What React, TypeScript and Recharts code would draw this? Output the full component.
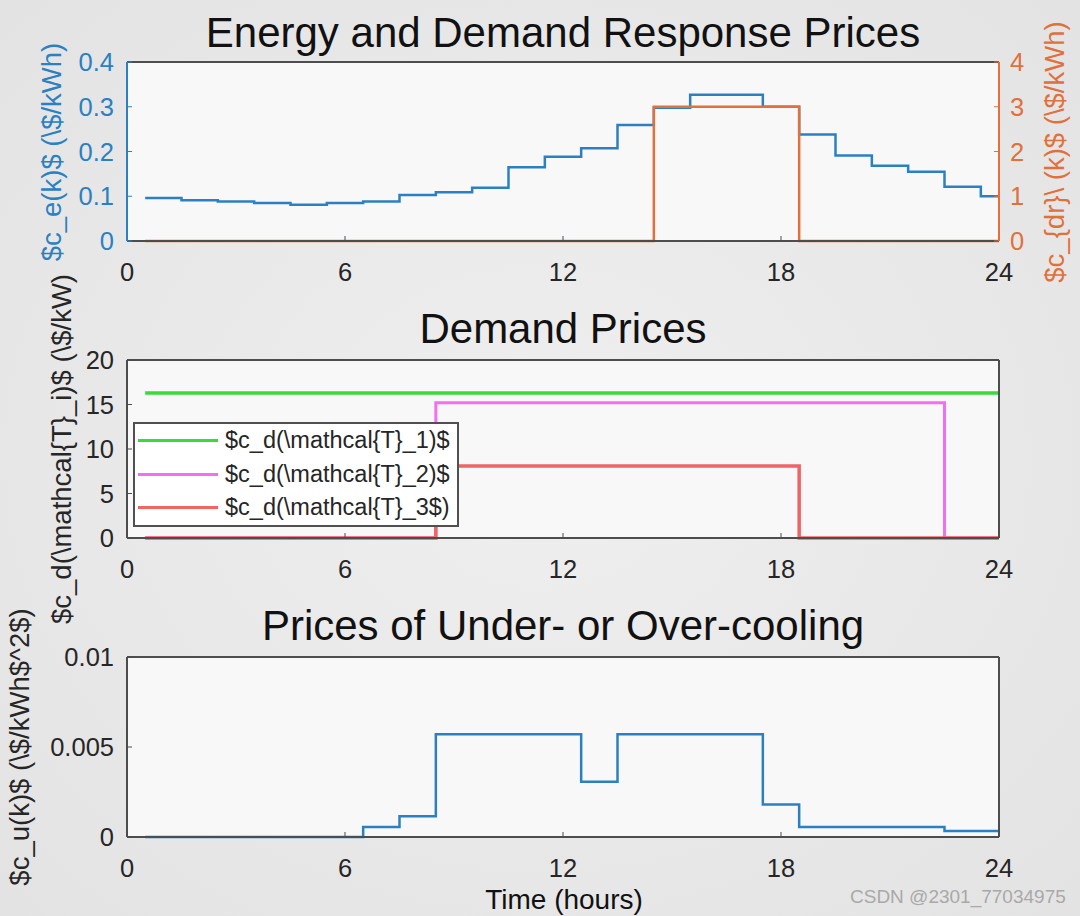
import React from 'react';
import { LineChart, Line, XAxis, YAxis, CartesianGrid, Legend, Label } from 'recharts';

// stairs: each value holds from its edge to the next edge, last value runs to 24 h
const stepEdges = [0.5, 1.5, 2.5, 3.5, 4.5, 5.5, 6.5, 7.5, 8.5, 9.5, 10.5, 11.5, 12.5, 13.5, 14.5, 15.5, 16.5, 17.5, 18.5, 19.5, 20.5, 21.5, 22.5, 23.5, 24];

const energyPrice = [0.096, 0.091, 0.088, 0.085, 0.081, 0.085, 0.088, 0.103, 0.109, 0.119, 0.165, 0.188, 0.207, 0.259, 0.298, 0.327, 0.327, 0.3, 0.238, 0.191, 0.168, 0.155, 0.121, 0.1];
const drPrice = [0, 0, 0, 0, 0, 0, 0, 0, 0, 0, 0, 0, 0, 0, 3, 3, 3, 3, 0, 0, 0, 0, 0, 0];

const demandT1 = [16.3, 16.3, 16.3, 16.3, 16.3, 16.3, 16.3, 16.3, 16.3, 16.3, 16.3, 16.3, 16.3, 16.3, 16.3, 16.3, 16.3, 16.3, 16.3, 16.3, 16.3, 16.3, 16.3, 16.3];
const demandT2 = [0, 0, 0, 0, 0, 0, 0, 0, 15.2, 15.2, 15.2, 15.2, 15.2, 15.2, 15.2, 15.2, 15.2, 15.2, 15.2, 15.2, 15.2, 15.2, 0, 0];
const demandT3 = [0, 0, 0, 0, 0, 0, 0, 0, 8.1, 8.1, 8.1, 8.1, 8.1, 8.1, 8.1, 8.1, 8.1, 8.1, 0, 0, 0, 0, 0, 0];

const coolingPrice = [0, 0, 0, 0, 0, 0, 0.00056, 0.00115, 0.00571, 0.00571, 0.00571, 0.00571, 0.00307, 0.00571, 0.00571, 0.00571, 0.00571, 0.0018, 0.00056, 0.00056, 0.00056, 0.00056, 0.00033, 0.00033];

const hourTicks = [0, 6, 12, 18, 24];
const energyTicks = [0, 0.1, 0.2, 0.3, 0.4];
const drTicks = [0, 1, 2, 3, 4];
const demandTicks = [0, 5, 10, 15, 20];
const coolingTicks = [0, 0.005, 0.01];

const stairs = (series: Record<string, number[]>) =>
  stepEdges.map((t, i) => {
    const row: Record<string, number> = { t };
    Object.keys(series).forEach((k) => {
      const v = series[k];
      row[k] = v[Math.min(i, v.length - 1)];
    });
    return row;
  });

const energyRows = stairs({ energy: energyPrice, dr: drPrice });
const demandRows = stairs({ t1: demandT1, t2: demandT2, t3: demandT3 });
const coolingRows = stairs({ cool: coolingPrice });

const W = 1080;
const H = 916;
const FONT = '"Liberation Sans", Arial, Helvetica, sans-serif';
const AXIS = '#4d4d4d';
const TEXT = '#262626';
const BLUE = '#2b80c2';
const ORANGE = '#e0703c';
const GREEN = '#38dc38';
const MAGENTA = '#f26ef2';
const RED = '#f06464';
const PLOT_BG = '#f8f8f8';

const tickFont = { fontSize: 25.5, fontFamily: FONT };

const rotated = (text: string, x: number, y: number, color: string) => () => (
  <text x={x} y={y} transform={`rotate(-90 ${x} ${y})`} textAnchor="middle" fill={color} fontSize={27.5} fontFamily={FONT}>
    {text}
  </text>
);

const flat = (text: string, x: number, y: number, size: number) => () => (
  <text x={x} y={y} textAnchor="middle" fill="#111" fontSize={size} fontFamily={FONT}>
    {text}
  </text>
);

const layer: React.CSSProperties = { position: 'absolute', left: 0, top: 0 };

function bottomAxis(height: number, label?: React.ReactNode) {
  return (
    <XAxis
      dataKey="t"
      type="number"
      domain={[0, 24]}
      ticks={hourTicks}
      height={height}
      tickSize={-5}
      tickMargin={27}
      stroke={AXIS}
      axisLine={{ strokeWidth: 2 }}
      tick={{ ...tickFont, fill: TEXT }}
    >
      {label}
    </XAxis>
  );
}

function topAxis(title: React.ReactNode) {
  return (
    <XAxis
      xAxisId="top"
      orientation="top"
      dataKey="t"
      type="number"
      domain={[0, 24]}
      ticks={hourTicks}
      height={1}
      tickSize={-5}
      tick={false}
      stroke={AXIS}
      axisLine={{ strokeWidth: 2 }}
    >
      {title}
    </XAxis>
  );
}

const LegendBox = ({ payload }: any) => (
  <div style={{ border: '2px solid #505050', background: '#ffffff', width: 322 }}>
    {(payload || []).map((p: any) => (
      <div key={p.value} style={{ display: 'flex', alignItems: 'center', height: 33.5 }}>
        <div style={{ width: 80, height: 3, background: p.color, marginLeft: 3, marginRight: 7 }} />
        <span style={{ fontSize: 23.5, fontFamily: FONT, color: TEXT, whiteSpace: 'nowrap' }}>{p.value}</span>
      </div>
    ))}
  </div>
);

export default function App() {
  return (
    <div
      style={{
        position: 'absolute',
        left: 0,
        top: 0,
        width: W,
        height: H,
        overflow: 'hidden',
        background: 'radial-gradient(ellipse at 50% 50%, #efefef 0%, #e3e3e3 100%)',
      }}
    >
      {/* Energy and demand response prices */}
      <div style={layer}>
        <LineChart width={W} height={H} data={energyRows} margin={{ top: 61, right: 0, bottom: 616, left: 0 }}>
          <CartesianGrid fill={PLOT_BG} horizontal={false} vertical={false} />
          {bottomAxis(59)}
          {topAxis(<Label content={flat('Energy and Demand Response Prices', 563, 47, 42)} />)}
          <YAxis
            domain={[0, 0.4]}
            ticks={energyTicks}
            width={127}
            tickSize={-5}
            tickMargin={18}
            stroke={BLUE}
            axisLine={{ strokeWidth: 2 }}
            tick={{ ...tickFont, fill: BLUE }}
          >
            <Label content={rotated('$c_e(k)$ (\\$/kWh)', 61, 152, BLUE)} />
          </YAxis>
          <YAxis
            yAxisId="right"
            orientation="right"
            domain={[0, 4]}
            ticks={drTicks}
            width={81}
            tickSize={-5}
            tickMargin={16}
            stroke={ORANGE}
            axisLine={{ strokeWidth: 2 }}
            tick={{ ...tickFont, fill: ORANGE, textAnchor: 'start' }}
          >
            <Label content={rotated('$c_{dr}\\ (k)$ (\\$/kWh)', 1064, 152, ORANGE)} />
          </YAxis>
          <Line dataKey="energy" type="stepAfter" stroke={BLUE} strokeWidth={2.5} dot={false} activeDot={false} isAnimationActive={false} />
          <Line dataKey="dr" yAxisId="right" type="stepAfter" stroke={ORANGE} strokeWidth={2.5} dot={false} activeDot={false} isAnimationActive={false} />
        </LineChart>
      </div>

      {/* Demand prices */}
      <div style={layer}>
        <LineChart width={W} height={H} data={demandRows} margin={{ top: 359, right: 0, bottom: 316, left: 0 }}>
          <CartesianGrid fill={PLOT_BG} horizontal={false} vertical={false} />
          {bottomAxis(62)}
          {topAxis(<Label content={flat('Demand Prices', 563, 343, 42)} />)}
          <YAxis
            domain={[0, 20]}
            ticks={demandTicks}
            width={127}
            tickSize={-5}
            tickMargin={18}
            stroke={AXIS}
            axisLine={{ strokeWidth: 2 }}
            tick={{ ...tickFont, fill: TEXT }}
          >
            <Label content={rotated('$c_d(\\mathcal{T}_i)$ (\\$/kW)', 71, 449, TEXT)} />
          </YAxis>
          <YAxis
            yAxisId="right"
            orientation="right"
            domain={[0, 20]}
            ticks={demandTicks}
            width={81}
            tickSize={-5}
            tick={false}
            stroke={AXIS}
            axisLine={{ strokeWidth: 2 }}
          />
          <Legend
            layout="vertical"
            align="center"
            verticalAlign="middle"
            content={<LegendBox />}
            wrapperStyle={{ left: 133, top: 422, width: 'auto', height: 'auto' }}
          />
          <Line dataKey="t1" name="$c_d(\mathcal{T}_1)$" type="stepAfter" stroke={GREEN} strokeWidth={3.5} dot={false} activeDot={false} isAnimationActive={false} />
          <Line dataKey="t2" name="$c_d(\mathcal{T}_2)$" type="stepAfter" stroke={MAGENTA} strokeWidth={3} dot={false} activeDot={false} isAnimationActive={false} />
          <Line dataKey="t3" name="$c_d(\mathcal{T}_3$)" type="stepAfter" stroke={RED} strokeWidth={3.5} dot={false} activeDot={false} isAnimationActive={false} />
        </LineChart>
      </div>

      {/* Prices of under- or over-cooling */}
      <div style={layer}>
        <LineChart width={W} height={H} data={coolingRows} margin={{ top: 656, right: 0, bottom: 0, left: 0 }}>
          <CartesianGrid fill={PLOT_BG} horizontal={false} vertical={false} />
          {bottomAxis(79, <Label content={flat('Time (hours)', 564, 909, 28)} />)}
          {topAxis(<Label content={flat('Prices of Under- or Over-cooling', 563, 640, 42)} />)}
          <YAxis
            domain={[0, 0.01]}
            ticks={coolingTicks}
            width={127}
            tickSize={-5}
            tickMargin={18}
            stroke={AXIS}
            axisLine={{ strokeWidth: 2 }}
            tick={{ ...tickFont, fill: TEXT }}
          >
            <Label content={rotated('$c_u(k)$ (\\$/kWh$^2$)', 29, 747, TEXT)} />
          </YAxis>
          <YAxis
            yAxisId="right"
            orientation="right"
            domain={[0, 0.01]}
            ticks={coolingTicks}
            width={81}
            tickSize={-5}
            tick={false}
            stroke={AXIS}
            axisLine={{ strokeWidth: 2 }}
          />
          <Line dataKey="cool" type="stepAfter" stroke={BLUE} strokeWidth={2.5} dot={false} activeDot={false} isAnimationActive={false} />
        </LineChart>
      </div>

      <div
        style={{
          position: 'absolute',
          left: 850,
          top: 886,
          fontSize: 19,
          fontFamily: FONT,
          color: '#a9a9a9',
          whiteSpace: 'nowrap',
        }}
      >
        CSDN @2301_77034975
      </div>
    </div>
  );
}
